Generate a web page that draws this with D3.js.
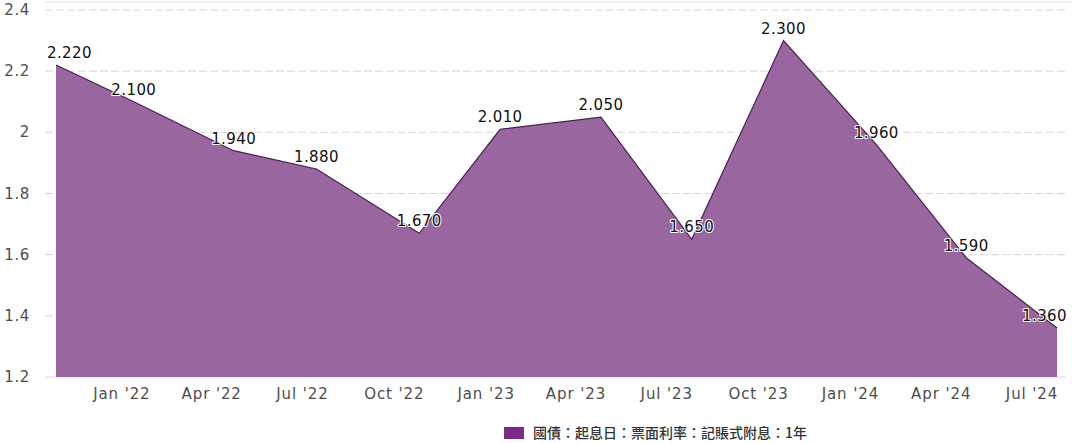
<!DOCTYPE html>
<html>
<head>
<meta charset="utf-8">
<script src="https://cdn.jsdelivr.net/npm/d3@7"></script>
<style>
  body { margin: 0; background: #fff; }
  svg { display: block; }
</style>
</head>
<body>
<svg id="chart" width="1072" height="443"></svg>
<script>
// issue dates and 1-year coupon rates
const issueDates = ['2021-10-27', '2022-01-13', '2022-04-23', '2022-07-15', '2022-10-26', '2023-01-15',
  '2023-04-26', '2023-07-26', '2023-10-26', '2024-01-27', '2024-04-26', '2024-07-26']
const couponRates = [2.22, 2.10, 1.94, 1.88, 1.67, 2.01, 2.05, 1.65, 2.30, 1.96, 1.59, 1.36]
const yTicks = [1.2, 1.4, 1.6, 1.8, 2.0, 2.2, 2.4]
const xTickDates = ['2022-01-01', '2022-04-01', '2022-07-01', '2022-10-01', '2023-01-01', '2023-04-01',
  '2023-07-01', '2023-10-01', '2024-01-01', '2024-04-01', '2024-07-01']
const seriesName = '國債：起息日：票面利率：記賬式附息：1年'

const parse = d3.timeParse('%Y-%m-%d')
const data = issueDates.map((d, i) => ({ date: parse(d), value: couponRates[i] }))

const svg = d3.select('#chart')
const plot = { left: 56, right: 1057, top: 10, bottom: 377 }

const x = d3.scaleTime()
  .domain(d3.extent(data, d => d.date))
  .range([plot.left, plot.right])

const y = d3.scaleLinear()
  .domain([1.2, 2.4])
  .range([plot.bottom, plot.top])

// top border line
svg.append('line')
  .attr('x1', 43).attr('x2', 1072)
  .attr('y1', 2).attr('y2', 2)
  .attr('stroke', '#e4e4e4')

// grid lines
svg.append('g')
  .selectAll('line')
  .data(yTicks)
  .join('line')
  .attr('x1', 45).attr('x2', 1066)
  .attr('y1', d => y(d)).attr('y2', d => y(d))
  .attr('stroke', '#d6d6d6')
  .attr('stroke-dasharray', d => d === 1.2 ? null : '8,3')

// y axis labels
svg.append('g')
  .selectAll('text')
  .data(yTicks)
  .join('text')
  .attr('x', 30)
  .attr('y', d => y(d) + 5)
  .attr('text-anchor', 'end')
  .attr('font-family', 'DejaVu Sans')
  .attr('font-size', 15)
  .attr('letter-spacing', 0.6)
  .attr('fill', '#4d4d4d')
  .text(d => d3.format('~g')(d))

// area + line
const area = d3.area()
  .x(d => x(d.date))
  .y0(y(1.2))
  .y1(d => y(d.value))

const line = d3.line()
  .x(d => x(d.date))
  .y(d => y(d.value))

svg.append('path')
  .datum(data)
  .attr('d', area)
  .attr('fill', '#9a66a0')

svg.append('path')
  .datum(data)
  .attr('d', line)
  .attr('fill', 'none')
  .attr('stroke', '#4a1e54')
  .attr('stroke-width', 1.2)

// x axis labels
const fmtX = d3.timeFormat("%b '%y")
svg.append('g')
  .selectAll('text')
  .data(xTickDates.map(parse))
  .join('text')
  .attr('x', d => x(d))
  .attr('y', 399)
  .attr('text-anchor', 'middle')
  .attr('font-family', 'DejaVu Sans')
  .attr('font-size', 15)
  .attr('letter-spacing', 0.9)
  .attr('fill', '#4d4d4d')
  .text(d => fmtX(d))

// data labels, kept inside the chart edges
const labels = svg.append('g')
  .selectAll('text')
  .data(data)
  .join('text')
  .attr('x', d => x(d.date))
  .attr('y', d => y(d.value) - 7)
  .attr('text-anchor', 'middle')
  .attr('font-family', 'DejaVu Sans')
  .attr('font-size', 15)
  .attr('letter-spacing', 0.4)
  .attr('fill', '#111')
  .attr('stroke', '#fff')
  .attr('stroke-width', 2)
  .attr('stroke-linejoin', 'round')
  .attr('paint-order', 'stroke')
  .text(d => d.value.toFixed(3))

labels.each(function() {
  const b = this.getBBox()
  const cx = +this.getAttribute('x')
  if (b.x < 47) this.setAttribute('x', cx + (47 - b.x))
  if (b.x + b.width > 1067) this.setAttribute('x', cx - (b.x + b.width - 1067))
})

// legend
const legend = svg.append('g')
legend.append('rect')
  .attr('x', 504).attr('y', 427)
  .attr('width', 20).attr('height', 12)
  .attr('fill', '#7b2a88')
legend.append('text')
  .attr('x', 533).attr('y', 438)
  .attr('font-family', 'Noto Sans CJK TC')
  .attr('font-size', 14)
  .attr('font-weight', 500)
  .attr('fill', '#333')
  .text(seriesName)
</script>
</body>
</html>
